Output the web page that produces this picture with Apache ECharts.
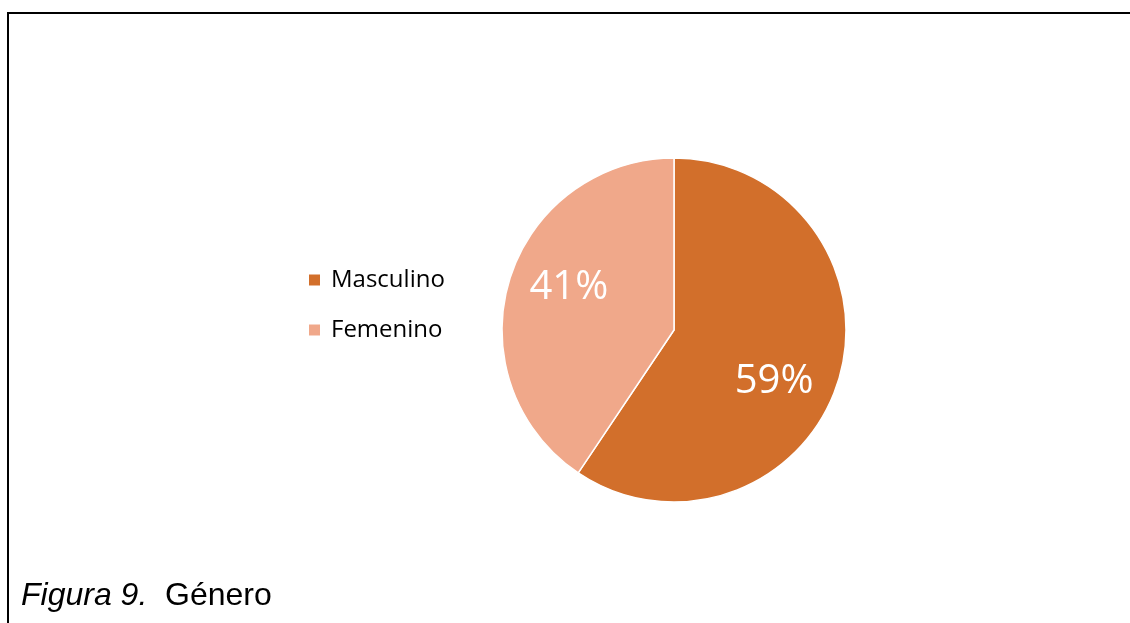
<!DOCTYPE html>
<html>
<head>
<meta charset="utf-8">
<script src="https://cdn.jsdelivr.net/npm/echarts@6/dist/echarts.min.js"></script>
<style>
  html, body { margin: 0; padding: 0; background: #fff; }
  #chart { width: 1130px; height: 623px; }
</style>
</head>
<body>
<div id="chart"></div>
<script>
// Figura 9. Genero — pie, 2 categorias
var categories = ['Masculino', 'Femenino'];
var values = [59.4, 40.6];
var colors = ['#D26F2B', '#F0A88A'];
// desplazamiento de etiquetas (estilo, no datos)
var labelOffsets = [[15, 26], [-20, -16]];

var chart = echarts.init(document.getElementById('chart'), null, { renderer: 'canvas' });

var pieData = categories.map(function (name, i) {
  return {
    name: name,
    value: values[i],
    itemStyle: { color: colors[i] },
    label: { offset: labelOffsets[i] }
  };
});

chart.setOption({
  animation: false,
  backgroundColor: '#fff',
  title: {
    text: '{i|Figura 9.}  Género',
    left: 21,
    top: 580,
    padding: 0,
    textStyle: {
      fontFamily: 'Liberation Sans',
      fontSize: 32,
      fontWeight: 'normal',
      color: '#000',
      rich: {
        i: { fontFamily: 'Liberation Sans', fontSize: 32, fontStyle: 'italic', color: '#000' }
      }
    }
  },
  legend: {
    orient: 'vertical',
    left: 307,
    top: 268,
    icon: 'rect',
    itemWidth: 13,
    itemHeight: 13,
    itemGap: 26,
    padding: 0,
    data: categories,
    textStyle: {
      fontFamily: 'Open Sans',
      fontSize: 24,
      lineHeight: 24,
      color: '#000',
      padding: [0, 0, 0, 5]
    }
  },
  graphic: [
    { type: 'line', shape: { x1: 7, y1: 13, x2: 1130, y2: 13 }, style: { stroke: '#000', lineWidth: 2 } },
    { type: 'line', shape: { x1: 8, y1: 12, x2: 8, y2: 623 }, style: { stroke: '#000', lineWidth: 2 } }
  ],
  series: [{
    type: 'pie',
    center: [674, 330],
    radius: 172,
    startAngle: 90,
    clockwise: true,
    itemStyle: { borderColor: '#fff', borderWidth: 1.5 },
    label: {
      show: true,
      position: 'inside',
      formatter: function (p) { return Math.round(p.value) + '%'; },
      color: '#fff',
      fontFamily: 'Open Sans',
      fontSize: 40
    },
    labelLine: { show: false },
    emphasis: { disabled: true },
    data: pieData
  }]
});
</script>
</body>
</html>
